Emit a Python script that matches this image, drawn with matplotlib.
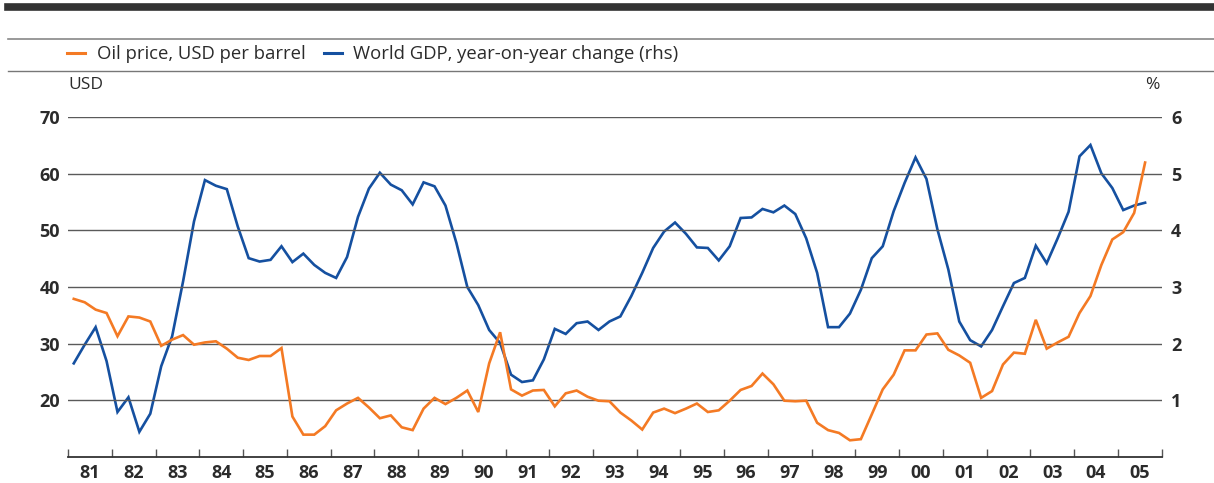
import matplotlib
matplotlib.use("Agg")
import matplotlib.pyplot as plt
from matplotlib.lines import Line2D
import numpy as np

plt.rcParams['font.family'] = ['Open Sans', 'DejaVu Sans']

# Quarterly data, 1981Q1 .. 2005Q3
start_year = 1981
oil_price = [
    37.9, 37.3, 36.0, 35.4, 31.3, 34.8, 34.6, 33.9, 29.6, 30.7,
    31.5, 29.8, 30.2, 30.4, 29.1, 27.5, 27.1, 27.8, 27.8, 29.2,
    17.1, 13.9, 13.9, 15.4, 18.2, 19.4, 20.4, 18.7, 16.8, 17.3,
    15.2, 14.7, 18.5, 20.4, 19.3, 20.4, 21.7, 17.9, 26.5, 32.0,
    21.9, 20.8, 21.7, 21.8, 18.9, 21.2, 21.7, 20.6, 19.9, 19.8,
    17.8, 16.4, 14.8, 17.8, 18.5, 17.7, 18.5, 19.4, 17.9, 18.2,
    19.9, 21.8, 22.5, 24.7, 22.8, 19.9, 19.8, 19.9, 16.0, 14.7,
    14.2, 12.9, 13.1, 17.5, 21.9, 24.5, 28.8, 28.8, 31.6, 31.8,
    28.9, 27.9, 26.6, 20.4, 21.6, 26.3, 28.4, 28.2, 34.2, 29.1,
    30.2, 31.2, 35.4, 38.4, 43.9, 48.4, 49.7, 53.1, 62.0,
]
world_gdp = [
    1.65, 1.98, 2.29, 1.69, 0.79, 1.05, 0.44, 0.76, 1.60, 2.13,
    3.10, 4.16, 4.89, 4.79, 4.73, 4.07, 3.51, 3.45, 3.48, 3.72,
    3.44, 3.59, 3.39, 3.25, 3.16, 3.53, 4.24, 4.74, 5.02, 4.81,
    4.71, 4.46, 4.85, 4.78, 4.44, 3.78, 3.00, 2.68, 2.24, 2.01,
    1.45, 1.32, 1.35, 1.72, 2.26, 2.17, 2.36, 2.39, 2.24, 2.39,
    2.48, 2.84, 3.25, 3.69, 3.98, 4.14, 3.94, 3.70, 3.69, 3.47,
    3.72, 4.22, 4.23, 4.38, 4.32, 4.44, 4.29, 3.86, 3.25, 2.29,
    2.29, 2.53, 2.95, 3.51, 3.72, 4.34, 4.84, 5.29, 4.91, 4.02,
    3.31, 2.39, 2.06, 1.95, 2.24, 2.66, 3.07, 3.16, 3.73, 3.42,
    3.86, 4.33, 5.31, 5.51, 5.01, 4.75, 4.36, 4.44, 4.49,
]
year_labels = ['81', '82', '83', '84', '85', '86', '87', '88', '89', '90',
               '91', '92', '93', '94', '95', '96', '97', '98', '99', '00',
               '01', '02', '03', '04', '05']
left_ticks = [20, 30, 40, 50, 60, 70]
right_ticks = [1, 2, 3, 4, 5, 6]
legend_labels = ['Oil price, USD per barrel', 'World GDP, year-on-year change (rhs)']

ORANGE = '#F47A24'
BLUE = '#1550A0'
GRID = '#5a5a5a'
TEXT = '#2b2b2b'

W, H = 1214, 483
fig = plt.figure(figsize=(W / 100, H / 100), dpi=100)

def fx(px):
    return px / W

def fy(py):
    return 1 - py / H

# top decorations
fig.add_artist(Line2D([fx(8), 1], [fy(6.5), fy(6.5)], color='#333333', lw=5.5, transform=fig.transFigure))
fig.add_artist(Line2D([fx(8), 1], [fy(38.5), fy(38.5)], color='#888888', lw=1.2, transform=fig.transFigure))
fig.add_artist(Line2D([fx(8), 1], [fy(70.5), fy(70.5)], color='#777777', lw=1.0, transform=fig.transFigure))

x0, x1 = 68.3, 1161.5
ytop, ybot = 117.3, 456.7
ax = fig.add_axes([fx(x0), fy(ybot), fx(x1 - x0), (ybot - ytop) / H])
ax2 = ax.twinx()

n = len(oil_price)
xq = start_year + (np.arange(n) + 0.5) / 4.0

ax2.plot(xq, world_gdp, color=BLUE, lw=1.9, solid_joinstyle='miter', zorder=3)
ax.plot(xq, oil_price, color=ORANGE, lw=1.9, solid_joinstyle='miter', zorder=3)
ax.set_zorder(ax2.get_zorder() + 1)
ax.patch.set_visible(False)

ax.set_xlim(start_year, start_year + len(year_labels))
ax.set_ylim(10, 70)
ax2.set_ylim(0, 6)

for t in left_ticks:
    ax.axhline(t, color=GRID, lw=1.0, zorder=1)

ax.set_yticks(left_ticks)
ax.set_yticklabels([str(t) for t in left_ticks])
ax2.set_yticks(right_ticks)
ax2.set_yticklabels([str(t) for t in right_ticks])
ax.tick_params(axis='y', length=0, pad=6, labelsize=13, labelcolor=TEXT)
ax2.tick_params(axis='y', length=0, pad=7, labelsize=13, labelcolor=TEXT)
for lab in ax.get_yticklabels() + ax2.get_yticklabels():
    lab.set_fontweight('bold')

years = np.arange(start_year, start_year + len(year_labels) + 1)
ax.set_xticks(years)
ax.set_xticklabels([])
ax.set_xticks(years[:-1] + 0.5, minor=True)
ax.set_xticklabels(year_labels, minor=True)
ax.tick_params(axis='x', which='major', direction='in', length=6, width=1.0, color='#555555')
ax.tick_params(axis='x', which='minor', length=0, pad=5, labelsize=13, labelcolor=TEXT)
for lab in ax.get_xticklabels(minor=True):
    lab.set_fontweight('bold')

for a in (ax, ax2):
    for s in ('top', 'left', 'right', 'bottom'):
        a.spines[s].set_visible(False)
ax.spines['bottom'].set_visible(True)
ax.spines['bottom'].set_color('#333333')
ax.spines['bottom'].set_linewidth(1.3)

fig.text(fx(68), fy(85), 'USD', ha='left', va='center', fontsize=12.5, color=TEXT)
fig.text(fx(1160), fy(85), '%', ha='right', va='center', fontsize=12.5, color=TEXT)

handles = [Line2D([], [], color=ORANGE, lw=2.2), Line2D([], [], color=BLUE, lw=2.2)]
fig.legend(handles, legend_labels, loc='center left', bbox_to_anchor=(fx(67), fy(54)),
           ncol=2, frameon=False, handlelength=1.0, handletextpad=0.6, columnspacing=1.0,
           fontsize=13.3, labelcolor=TEXT, borderaxespad=0, borderpad=0)

fig.savefig('out.png', dpi=100)
